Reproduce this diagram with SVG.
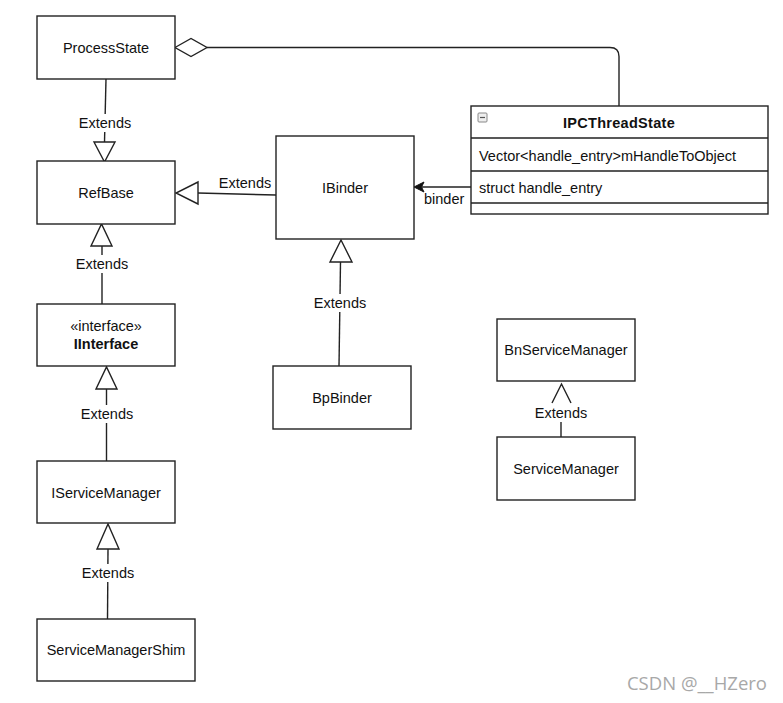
<svg xmlns="http://www.w3.org/2000/svg" width="783" height="703" viewBox="0 0 783 703">
<style>
.box{fill:#fff;stroke:#222;stroke-width:1.4}
.ln{fill:none;stroke:#222;stroke-width:1.4}
.tri{fill:#fff;stroke:#222;stroke-width:1.4}
text{font-family:"Liberation Sans",Arial,sans-serif;font-size:14.5px;fill:#111}
.c{text-anchor:middle;dominant-baseline:central}
.lbl{text-anchor:middle;dominant-baseline:central}
.b{font-weight:bold}
</style>
<rect width="783" height="703" fill="#fff"/>
<g id="connectors">
  <path class="ln" d="M207,47.5 H610 Q619,47.5 619,56.5 V106"/>
  <path class="tri" d="M175,47.5 L191,38.5 L207,47.5 L191,56.5 Z"/>
  <path class="ln" d="M106,79 L104.5,142"/>
  <path class="tri" d="M94,142 L115,142 L104.5,162 Z"/>
  <rect x="77" y="114" width="56" height="18" fill="#fff"/>
  <text class="lbl" x="105" y="123">Extends</text>
  <path class="ln" d="M276,195 L198,193"/>
  <path class="tri" d="M198,182 L198,204 L176,193 Z"/>
  <text class="lbl" x="245" y="183">Extends</text>
  <path class="ln" d="M102,304 L102,246"/>
  <path class="tri" d="M91,246 L112,246 L101.5,224 Z"/>
  <rect x="74" y="255" width="56" height="18" fill="#fff"/>
  <text class="lbl" x="102" y="264">Extends</text>
  <path class="ln" d="M106.5,461 L106.5,389"/>
  <path class="tri" d="M96,389 L117,389 L106.5,367 Z"/>
  <rect x="78" y="405" width="57" height="18" fill="#fff"/>
  <text class="lbl" x="107" y="414">Extends</text>
  <path class="ln" d="M339,366 L340.5,262"/>
  <path class="tri" d="M330,262 L352,262 L341,240 Z"/>
  <rect x="312" y="294" width="57" height="18" fill="#fff"/>
  <text class="lbl" x="340" y="303">Extends</text>
  <path class="ln" d="M107.5,619 L108,549"/>
  <path class="tri" d="M97,549 L119,549 L108,524 Z"/>
  <rect x="79" y="564" width="57" height="18" fill="#fff"/>
  <text class="lbl" x="108" y="573">Extends</text>
  <path class="ln" d="M561,437 L561,422"/>
  <path class="ln" d="M552,403 L561.5,384 L571,403"/>
  <text class="lbl" x="561" y="413">Extends</text>
  <path class="ln" d="M471,187 L422,187"/>
  <path d="M414,187 L424,182 L421.5,187 L424,192 Z" fill="#111" stroke="#111" stroke-width="1"/>
  <text x="424" y="203.5">binder</text>
</g>
<g id="ProcessState">
  <rect class="box" x="37" y="16" width="138" height="63"/>
  <text class="c" x="106" y="47.5">ProcessState</text>
</g>
<g id="RefBase">
  <rect class="box" x="37" y="161" width="138" height="63"/>
  <text class="c" x="106" y="192.5">RefBase</text>
</g>
<g id="IBinder">
  <rect class="box" x="276" y="136" width="138" height="103"/>
  <text class="c" x="345" y="187.5">IBinder</text>
</g>
<g id="IPCThreadState">
  <rect class="box" x="471" y="106" width="297" height="108"/>
  <path class="ln" d="M471,138 H768 M471,171 H768 M471,203 H768"/>
  <rect x="478" y="113" width="9" height="9" fill="#eee" stroke="#888" stroke-width="1" rx="1"/>
  <path d="M480,117.5 H485" stroke="#555" stroke-width="1.2"/>
  <text class="c b" x="619" y="123" style="letter-spacing:0.3px">IPCThreadState</text>
  <text x="479" y="161">Vector&lt;handle_entry&gt;mHandleToObject</text>
  <text x="479" y="193">struct handle_entry</text>
</g>
<g id="IInterface">
  <rect class="box" x="37" y="304" width="138" height="62"/>
  <text class="c" x="106" y="326">«interface»</text>
  <text class="c b" x="106" y="344">IInterface</text>
</g>
<g id="BpBinder">
  <rect class="box" x="273" y="366" width="138" height="63"/>
  <text class="c" x="342" y="397.5">BpBinder</text>
</g>
<g id="IServiceManager">
  <rect class="box" x="37" y="461" width="138" height="62"/>
  <text class="c" x="106" y="492.5">IServiceManager</text>
</g>
<g id="ServiceManagerShim">
  <rect class="box" x="37" y="619" width="158" height="62"/>
  <text class="c" x="116" y="650">ServiceManagerShim</text>
</g>
<g id="BnServiceManager">
  <rect class="box" x="497" y="319" width="138" height="62"/>
  <text class="c" x="566" y="350">BnServiceManager</text>
</g>
<g id="ServiceManager">
  <rect class="box" x="497" y="437" width="138" height="63"/>
  <text class="c" x="566" y="468.5">ServiceManager</text>
</g>
<text x="767" y="690" text-anchor="end" style="font-family:'Open Sans','Noto Sans',sans-serif;font-size:18.5px;fill:#a8a8a8">CSDN @__HZero</text>
</svg>
